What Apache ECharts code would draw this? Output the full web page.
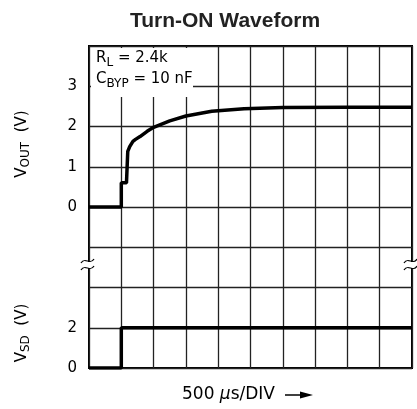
<!DOCTYPE html>
<html>
<head>
<meta charset="utf-8">
<script src="https://cdn.jsdelivr.net/npm/echarts@6/dist/echarts.min.js"></script>
<style>html,body{margin:0;padding:0;background:#fff}#c{width:417px;height:409px}</style>
</head>
<body>
<div id="c"></div>
<script>
// time in ms (500 us/div), voltages in V
var voutTime = [0, 0.5, 0.5, 0.58, 0.6, 0.63, 0.68, 0.72, 0.79, 0.9, 1.0, 1.25, 1.5, 1.9, 2.4, 3.0, 4.0, 5.0];
var voutVal  = [0, 0,   0.6, 0.6,  1.38, 1.5, 1.63, 1.68, 1.75, 1.88, 1.98, 2.14, 2.26, 2.38, 2.44, 2.47, 2.48, 2.48];
var vsdTime = [0, 0.5, 0.5, 5.0];
var vsdVal  = [0, 0,   2,   2];
var voutTicks = [0, 1, 2, 3];
var vsdTicks = [0, 2];

function pairs(xs, ys){ return xs.map(function(x,i){return [x, ys[i]];}); }

var FONT = 'DejaVu Sans';
var chart = echarts.init(document.getElementById('c'));

function tilde(x, y){
  return {type:'bezierCurve', z:120, shape:{x1:x-7,y1:y+2,cpx1:x-3,cpy1:y-5,cpx2:x+2,cpy2:y+5,x2:x+6,y2:y-2},
    style:{stroke:'#000', lineWidth:1.3, fill:null}};
}

chart.setOption({
  animation:false,
  backgroundColor:'#fff',
  title:{text:'Turn-ON Waveform', left:220, top:6, textAlign:'center',
    textStyle:{fontFamily:'Liberation Sans', fontWeight:'bold', fontSize:21, color:'#222'}},
  grid:{left:89, right:5, top:46, bottom:41, show:true, borderColor:'#000', borderWidth:2, backgroundColor:'transparent'},
  xAxis:{type:'value', min:0, max:5, interval:0.5,
    axisLine:{show:false}, axisTick:{show:false}, axisLabel:{show:false},
    splitLine:{show:true, lineStyle:{color:'#222', width:1.3}}},
  yAxis:[
    {type:'value', min:-4, max:4, interval:1, position:'left',
      axisLine:{show:false}, axisTick:{show:false},
      axisLabel:{margin:12, fontFamily:FONT, fontSize:15, color:'#000',
        formatter:function(v){return voutTicks.indexOf(v)>=0 ? String(v) : '';}},
      splitLine:{show:true, lineStyle:{color:'#222', width:1.3}}},
    {type:'value', min:0, max:16, interval:2, position:'left',
      axisLine:{show:false}, axisTick:{show:false},
      axisLabel:{margin:12, fontFamily:FONT, fontSize:15, color:'#000',
        formatter:function(v){return vsdTicks.indexOf(v)>=0 ? String(v) : '';}},
      splitLine:{show:false}}
  ],
  series:[
    {type:'line', yAxisIndex:0, data:pairs(voutTime, voutVal), showSymbol:false, smooth:false,
      lineStyle:{color:'#000', width:3.5}, z:10},
    {type:'line', yAxisIndex:1, data:pairs(vsdTime, vsdVal), showSymbol:false,
      lineStyle:{color:'#000', width:3.5}, z:10}
  ],
  graphic:[
    {type:'rect', z:100, shape:{x:91, y:48, width:102, height:49}, style:{fill:'#fff'}},
    {type:'text', z:110, left:96, top:51, style:{
      text:'R{s|L} = 2.4k', fontFamily:FONT, fontSize:15, fill:'#000',
      rich:{s:{fontFamily:FONT, fontSize:12, padding:[9,0,0,0], fill:'#000'}}}},
    {type:'text', z:110, left:96, top:72, style:{
      text:'C{s|BYP} = 10 nF', fontFamily:FONT, fontSize:15, fill:'#000',
      rich:{s:{fontFamily:FONT, fontSize:12, padding:[9,0,0,0], fill:'#000'}}}},
    {type:'text', z:110, x:22, y:144, rotation:Math.PI/2, style:{
      text:'V{s|OUT}  (V)', fontFamily:FONT, fontSize:15, fill:'#000', align:'center', verticalAlign:'middle',
      rich:{s:{fontFamily:FONT, fontSize:12, padding:[8,0,0,0], fill:'#000'}}}},
    {type:'text', z:110, x:22, y:333, rotation:Math.PI/2, style:{
      text:'V{s|SD}  (V)', fontFamily:FONT, fontSize:15, fill:'#000', align:'center', verticalAlign:'middle',
      rich:{s:{fontFamily:FONT, fontSize:12, padding:[8,0,0,0], fill:'#000'}}}},
    {type:'text', z:110, x:182, y:395, style:{
      text:'500 {i|μ}s/DIV', fontFamily:FONT, fontSize:17, fill:'#000', verticalAlign:'middle',
      rich:{i:{fontFamily:FONT, fontSize:17, fontStyle:'italic', fill:'#000'}}}},
    {type:'line', z:110, shape:{x1:285,y1:395,x2:303,y2:395}, style:{stroke:'#000', lineWidth:1.5}},
    {type:'polygon', z:110, shape:{points:[[300,391.5],[313,395],[300,398.5]]}, style:{fill:'#000'}},
    {type:'rect', z:115, shape:{x:86, y:262, width:6, height:6}, style:{fill:'#fff'}},
    tilde(88, 261), tilde(88, 268),
    {type:'rect', z:115, shape:{x:409, y:262, width:6, height:6}, style:{fill:'#fff'}},
    tilde(411, 261), tilde(411, 268)
  ]
});
</script>
</body>
</html>
